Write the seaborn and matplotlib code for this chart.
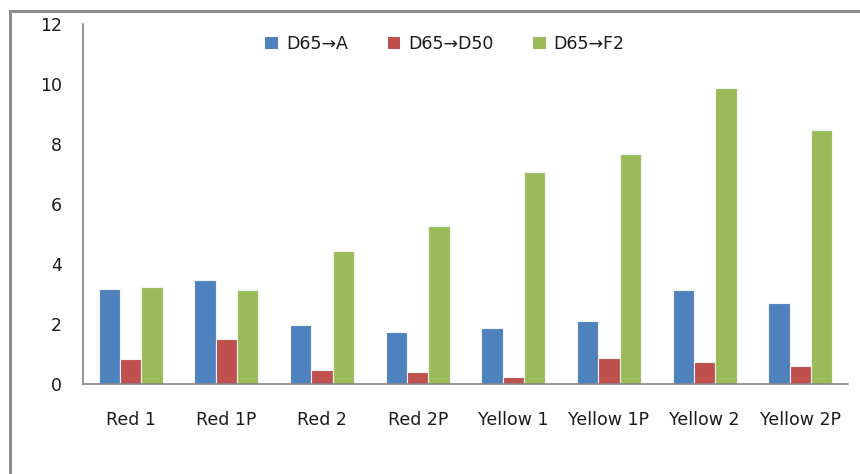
import matplotlib
matplotlib.use("Agg")
import matplotlib.pyplot as plt
from matplotlib.patches import Rectangle, Patch
import seaborn as sns
import pandas as pd

samples = ["Red 1", "Red 1P", "Red 2", "Red 2P",
           "Yellow 1", "Yellow 1P", "Yellow 2", "Yellow 2P"]
series = ["D65\u2192A", "D65\u2192D50", "D65\u2192F2"]
d65_to_a = [3.17, 3.48, 1.98, 1.73, 1.87, 2.10, 3.15, 2.70]
d65_to_d50 = [0.83, 1.50, 0.49, 0.41, 0.23, 0.87, 0.75, 0.61]
d65_to_f2 = [3.25, 3.14, 4.45, 5.28, 7.07, 7.66, 9.87, 8.45]
colors = ["#4F81BD", "#C0504D", "#9BBB59"]
yticks = [0, 2, 4, 6, 8, 10, 12]

rows = []
for name, vals in zip(series, [d65_to_a, d65_to_d50, d65_to_f2]):
    for s, v in zip(samples, vals):
        rows.append({"sample": s, "transform": name, "value": v})
df = pd.DataFrame(rows)

sns.set_theme(style="white")
plt.rcParams["font.family"] = ["DejaVu Sans"]

FS = 12.5
TXT = "#1a1a1a"

fig = plt.figure(figsize=(8.6, 4.74), dpi=100)
fig.patch.set_facecolor("white")
ax = fig.add_axes([83 / 860, 1 - 384.3 / 474, (848 - 83) / 860, (384.3 - 23.7) / 474])

sns.barplot(data=df, x="sample", y="value", hue="transform",
            hue_order=series, order=samples, palette=colors,
            width=0.67, gap=0, errorbar=None, legend=False, ax=ax,
            edgecolor="#eef3f8", linewidth=0.8, saturation=1)

ax.set_xlim(-0.5, len(samples) - 0.5)
ax.set_ylim(0, 12)
ax.set_yticks(yticks)
ax.set_yticklabels([str(t) for t in yticks])
ax.set_xlabel("")
ax.set_ylabel("")

# category labels centred, ticks at category boundaries
ax.set_xticks(range(len(samples)))
ax.set_xticklabels(samples)
ax.set_xticks([i - 0.5 for i in range(len(samples) + 1)], minor=True)
ax.tick_params(axis="x", which="major", length=0, pad=19, labelsize=FS, labelcolor=TXT)
ax.tick_params(axis="x", which="minor", length=6, width=1, color="#868686", direction="out")
ax.tick_params(axis="y", length=6, width=1, color="#868686", direction="out",
               pad=9, labelsize=FS, labelcolor=TXT)

for side in ["top", "right"]:
    ax.spines[side].set_visible(False)
for side in ["left", "bottom"]:
    ax.spines[side].set_color("#868686")
    ax.spines[side].set_linewidth(1.2)

handles = [Patch(facecolor=c, edgecolor="none") for c in colors]
fig.legend(handles, series, loc="center", bbox_to_anchor=(445 / 860, 1 - 44 / 474),
           ncol=3, frameon=False, fontsize=FS, handlelength=0.72, handleheight=0.72,
           handletextpad=0.45, columnspacing=2.3, labelcolor=TXT)

# outer chart border (extends past the right and bottom edges)
fig.add_artist(Rectangle((10 / 860, -0.05), 1.0, 1 - 11 / 474 + 0.05,
                         transform=fig.transFigure, fill=False,
                         edgecolor="#8c8c8c", linewidth=2.2))

fig.savefig("out.png", dpi=100, facecolor="white")
